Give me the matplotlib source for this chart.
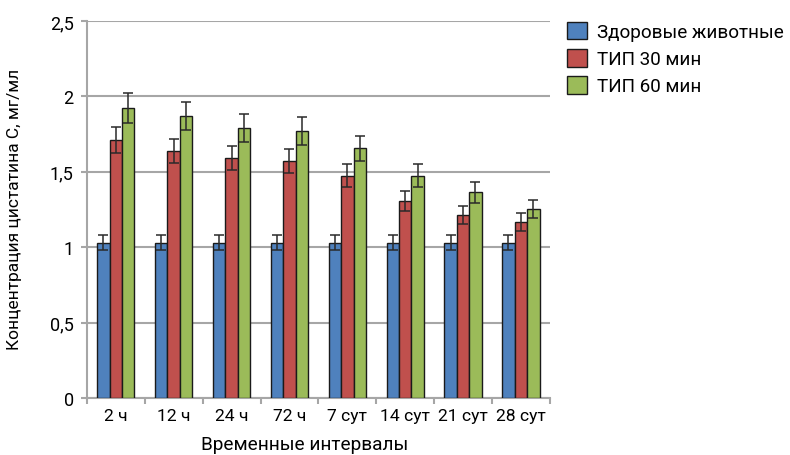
import numpy as np
import matplotlib
matplotlib.use('Agg')
import matplotlib.pyplot as plt
from matplotlib.ticker import FixedLocator, NullFormatter

plt.rcParams['font.family'] = ['Roboto', 'DejaVu Sans']

# Данные
categories = ['2 ч', '12 ч', '24 ч', '72 ч', '7 сут', '14 сут', '21 сут', '28 сут']
series = ['Здоровые животные', 'ТИП 30 мин', 'ТИП 60 мин']
healthy = [1.03, 1.03, 1.03, 1.03, 1.03, 1.03, 1.03, 1.03]
healthy_err = [0.05, 0.05, 0.05, 0.05, 0.05, 0.05, 0.05, 0.05]
tip30 = [1.71, 1.64, 1.59, 1.57, 1.475, 1.305, 1.215, 1.165]
tip30_err = [0.085, 0.08, 0.08, 0.08, 0.075, 0.065, 0.06, 0.06]
tip60 = [1.92, 1.87, 1.79, 1.77, 1.655, 1.475, 1.365, 1.25]
tip60_err = [0.1, 0.095, 0.09, 0.09, 0.085, 0.075, 0.07, 0.06]
colors = ['#4F81BD', '#C0504D', '#9BBB59']
gris = '#A6A6A6'

fig = plt.figure(figsize=(7.9, 4.56), dpi=100)
ax = fig.add_axes([0.110, 0.125, 0.586, 0.827])

x = np.arange(len(categories))
barWidth = 0.215
for i, (vals, errs) in enumerate([(healthy, healthy_err), (tip30, tip30_err), (tip60, tip60_err)]):
    pos = x + (i - 1) * barWidth
    ax.bar(pos, vals, width=barWidth, color=colors[i], edgecolor='#1a1a1a',
           linewidth=1.0, label=series[i], zorder=3)
    ax.errorbar(pos, vals, yerr=errs, fmt='none', ecolor='#2a2a2a',
                elinewidth=1.1, capsize=3.8, capthick=1.1, zorder=4)

ax.set_xlim(-0.5, len(categories) - 0.5)
ax.set_ylim(0, 2.5)
ax.set_yticks([0, 0.5, 1, 1.5, 2, 2.5])
ax.set_yticklabels(['0', '0,5', '1', '1,5', '2', '2,5'], fontsize=13)
ax.yaxis.grid(True, color=gris, linewidth=1.5, zorder=0)
ax.set_axisbelow(True)

ax.set_xticks(x)
ax.set_xticklabels(categories, fontsize=12.6)
ax.tick_params(axis='x', which='major', length=0, pad=7)
ax.xaxis.set_minor_locator(FixedLocator(np.arange(-0.5, len(categories), 1)))
ax.xaxis.set_minor_formatter(NullFormatter())
ax.tick_params(axis='x', which='minor', length=4.5, color=gris, width=1.5)
ax.tick_params(axis='y', length=4.5, color=gris, width=1.5, pad=5)

for s in ['top', 'right']:
    ax.spines[s].set_visible(False)
for s in ['left', 'bottom']:
    ax.spines[s].set_color(gris)
    ax.spines[s].set_linewidth(1.5)

ax.set_xlabel('Временные интервалы', fontsize=13.7)
ax.xaxis.set_label_coords(0.471, -0.097)
ax.set_ylabel('Концентрация цистатина С, мг/мл', fontsize=12.5, va='center')
ax.yaxis.set_label_coords(-0.1555, 0.503)

ax.legend(loc='upper left', bbox_to_anchor=(1.037, 0.998), frameon=False,
          fontsize=13.6, handlelength=1.07, handleheight=1.07, handletextpad=0.5,
          labelspacing=0.42, borderaxespad=0, borderpad=0)

plt.savefig('out.png', dpi=100)
